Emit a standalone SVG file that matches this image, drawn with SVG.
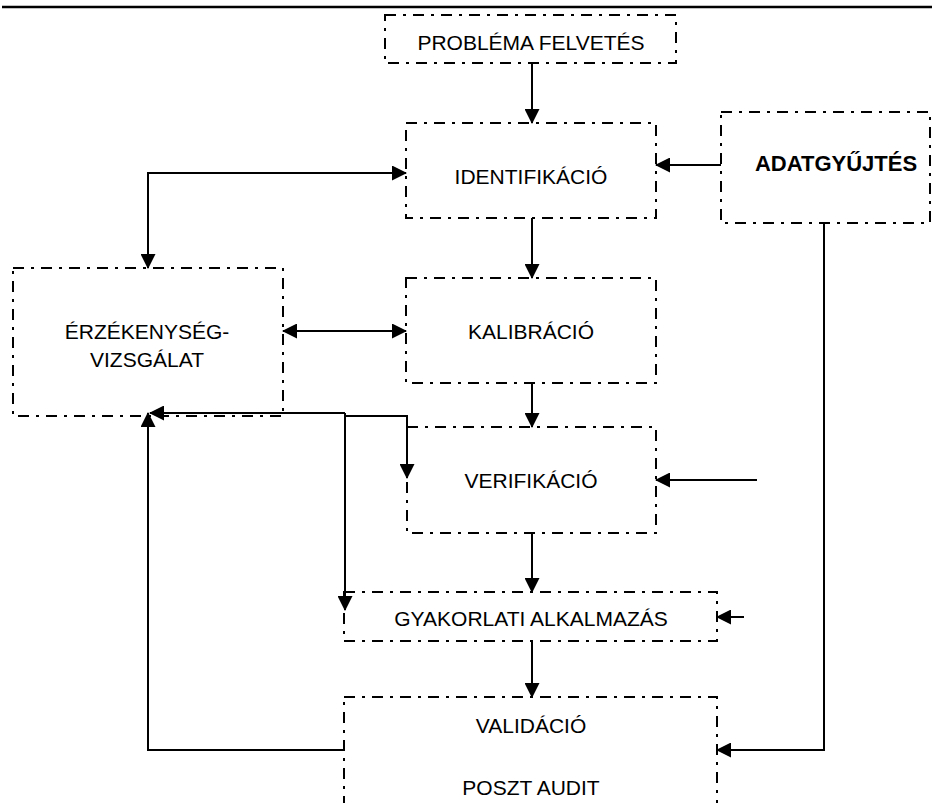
<svg xmlns="http://www.w3.org/2000/svg" width="932" height="803" viewBox="0 0 932 803">
<style>
.box{fill:none;stroke:#000;stroke-width:2;stroke-dasharray:11 7 3 7}
.t{font-family:"Liberation Sans",Arial,sans-serif;font-size:21px;fill:#000;text-anchor:middle}
.b{font-weight:bold;font-size:22px}
.c{fill:none;stroke:#000;stroke-width:2}
</style>
<defs>
<marker id="ah" markerUnits="userSpaceOnUse" markerWidth="15" markerHeight="15" refX="14" refY="7.5" orient="auto-start-reverse">
<path d="M0,0 L15,7.5 L0,15 z" fill="#000"/>
</marker>
</defs>
<rect width="932" height="803" fill="#fff"/>
<line x1="2" y1="7" x2="932" y2="7" stroke="#000" stroke-width="2.5"/>
<g id="problema"><rect class="box" x="385" y="15" width="291" height="48"/><text class="t" x="531" y="50">PROBLÉMA FELVETÉS</text></g>
<g id="identifikacio"><rect class="box" x="406" y="123" width="250" height="95"/><text class="t" x="531" y="184">IDENTIFIKÁCIÓ</text></g>
<g id="adatgyujtes"><rect class="box" x="721" y="112" width="209" height="111"/><text class="t b" x="836" y="171">ADATGYŰJTÉS</text></g>
<g id="erzekenyseg"><rect class="box" x="13" y="268" width="270" height="148"/><text class="t" x="147" y="339">ÉRZÉKENYSÉG-</text><text class="t" x="147" y="367">VIZSGÁLAT</text></g>
<g id="kalibracio"><rect class="box" x="406" y="278" width="250" height="105"/><text class="t" x="531" y="339">KALIBRÁCIÓ</text></g>
<g id="verifikacio"><rect class="box" x="407" y="427" width="249" height="106"/><text class="t" x="531" y="488">VERIFIKÁCIÓ</text></g>
<g id="gyakorlati"><rect class="box" x="344" y="592" width="373" height="49"/><text class="t" x="531" y="626">GYAKORLATI ALKALMAZÁS</text></g>
<g id="validacio"><rect class="box" x="344" y="697" width="373" height="130"/><text class="t" x="531" y="733">VALIDÁCIÓ</text><text class="t" x="531" y="795">POSZT AUDIT</text></g>
<g id="connectors">
<path class="c" d="M532,63 V123" marker-end="url(#ah)"/>
<path class="c" d="M721,165 H656" marker-end="url(#ah)"/>
<path class="c" d="M406,173 H148 V268" marker-start="url(#ah)" marker-end="url(#ah)"/>
<path class="c" d="M532,218 V278" marker-end="url(#ah)"/>
<path class="c" d="M283,331 H406" marker-start="url(#ah)" marker-end="url(#ah)"/>
<path class="c" d="M532,383 V427" marker-end="url(#ah)"/>
<path class="c" d="M345,413 H150" marker-end="url(#ah)"/>
<path class="c" d="M345,413 V610" marker-end="url(#ah)"/>
<path class="c" d="M345,416 H407 V478" marker-end="url(#ah)"/>
<path class="c" d="M757,480 H656" marker-end="url(#ah)"/>
<path class="c" d="M532,533 V592" marker-end="url(#ah)"/>
<path class="c" d="M744,617 H717" marker-end="url(#ah)"/>
<path class="c" d="M532,641 V697" marker-end="url(#ah)"/>
<path class="c" d="M824,223 V750 H717" marker-end="url(#ah)"/>
<path class="c" d="M344,750 H148 V413" marker-end="url(#ah)"/>
</g>
</svg>
